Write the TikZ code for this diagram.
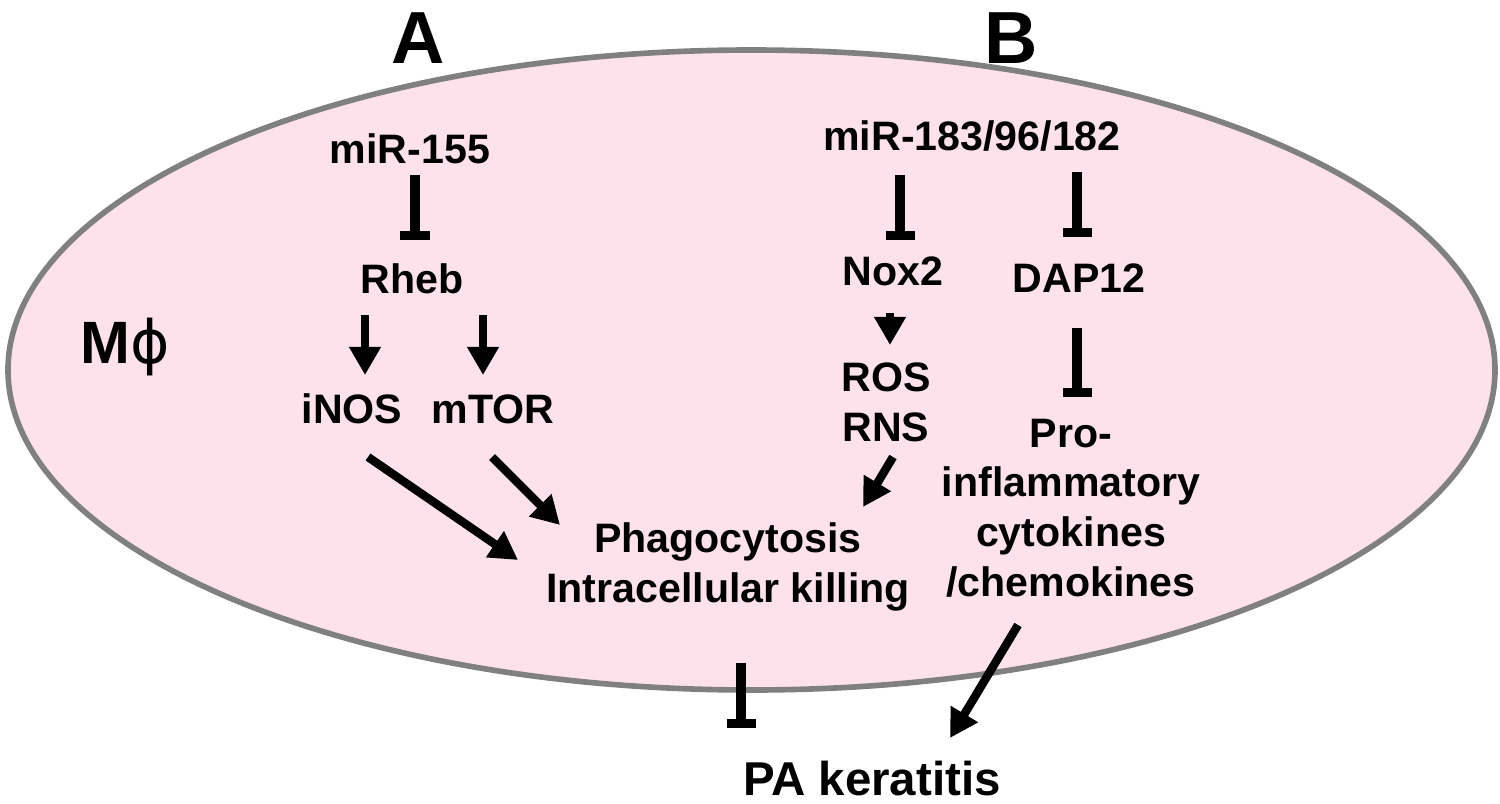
\documentclass[tikz,border=0pt]{standalone}
\usepackage{fontspec}
\setmainfont{Liberation Sans}
\newfontfamily\phifont{DejaVu Sans}
\usetikzlibrary{arrows.meta}
\definecolor{cellpink}{RGB}{253,226,236}
\definecolor{cellgray}{RGB}{128,128,128}

\begin{document}
\begin{tikzpicture}[x=0.01cm,y=-0.01cm,
  act/.style={-{Triangle[width=0.3cm,length=0.28cm]},line width=2.4pt},
  inh/.style={-{Bar[width=0.29cm]},line width=2.6pt},
  gene/.style={inner sep=0pt,anchor=base,font=\fontsize{11.7pt}{14.2pt}\selectfont\bfseries},
  multi/.style={gene,anchor=north,align=center}]

  \useasboundingbox (0,0) rectangle (1500,803);

  % the macrophage
  \draw[cellgray,fill=cellpink,line width=1.6pt] (751.5,370) ellipse [x radius=743.5,y radius=320];

  \node[gene,font=\fontsize{21pt}{25pt}\selectfont\bfseries] (labA) at (418,63) {A};
  \node[gene,font=\fontsize{21pt}{25pt}\selectfont\bfseries] (labB) at (1011,63) {B};
  \node[gene,font=\fontsize{17pt}{20pt}\selectfont\bfseries] (mphi) at (125,363) {M{\phifont\mdseries ϕ}};

  \node[gene] (mir155) at (410,163) {miR-155};
  \node[gene] (rheb) at (412,293) {Rheb};
  \node[gene] (inos) at (352,423) {iNOS};
  \node[gene] (mtor) at (493,423) {mTOR};
  \node[gene] (mir183) at (972,150) {miR-183/96/182};
  \node[gene] (nox2) at (893,285) {Nox2};
  \node[gene] (dap12) at (1079,292) {DAP12};
  \node[multi] (ros) at (886,362) {ROS\\RNS};
  \node[multi] (pro) at (1071,418) {Pro-\\inflammatory\\cytokines\\/chemokines};
  \node[multi] (phago) at (728,522) {Phagocytosis\\Intracellular killing};
  \node[gene,font=\fontsize{13.5pt}{16pt}\selectfont\bfseries] (pa) at (872,795) {PA keratitis};

  \draw[inh] ([shift={(5,12)}]mir155.base) -- ([shift={(3,-53)}]rheb.base);
  \draw[act] ([shift={(-47,22)}]rheb.base) -- ([shift={(13,-48)}]inos.base);
  \draw[act] ([shift={(71,22)}]rheb.base) -- ([shift={(-10,-48)}]mtor.base);
  \draw[act] ([shift={(16,34)}]inos.base) -- ([shift={(-210,38)}]phago.north);
  \draw[act] ([shift={(-1,34)}]mtor.base) -- ([shift={(-168,3)}]phago.north);

  \draw[inh] ([shift={(-72,25)}]mir183.base) -- ([shift={(7,-45)}]nox2.base);
  \draw[inh] ([shift={(105,22)}]mir183.base) -- ([shift={(-2,-55)}]dap12.base);
  \draw[act] ([shift={(-3,28)}]nox2.base) -- ([shift={(4,-17)}]ros.north);
  \draw[inh] ([shift={(-2,36)}]dap12.base) -- ([shift={(6,-21)}]pro.north);
  \draw[act] ([shift={(7,95)}]ros.north) -- ([shift={(135,-15)}]phago.north);

  \draw[inh] ([shift={(13,141)}]phago.north) -- ([shift={(-131,-67)}]pa.base);
  \draw[act] ([shift={(-53,207)}]pro.north) -- ([shift={(78,-57)}]pa.base);
\end{tikzpicture}
\end{document}
